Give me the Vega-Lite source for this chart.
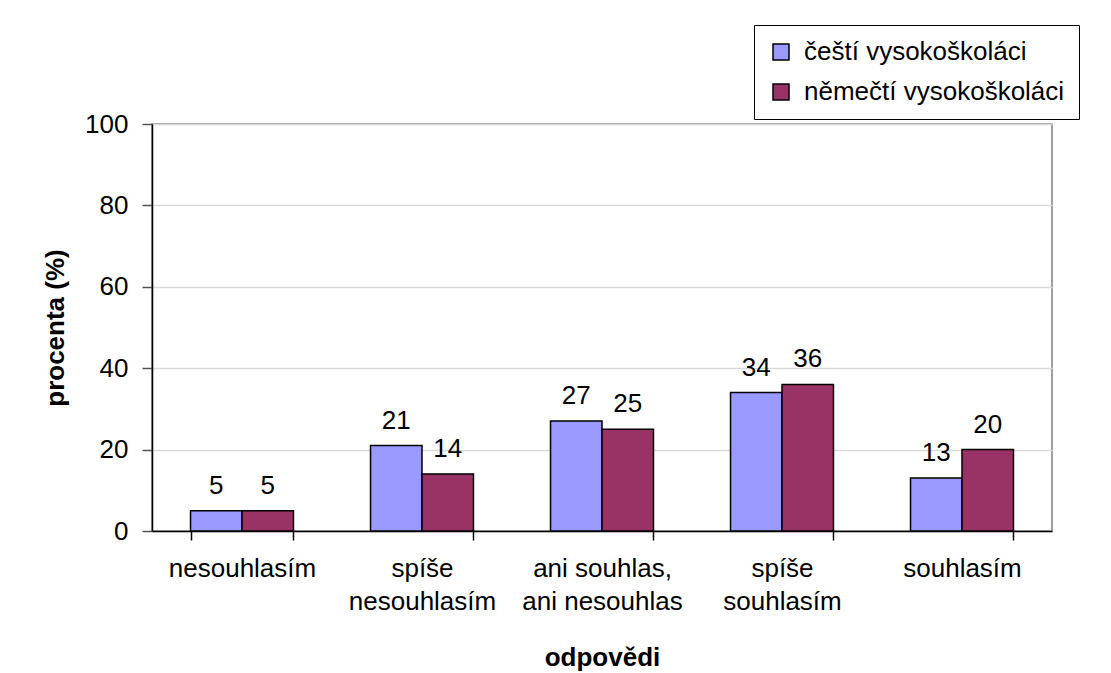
{
  "$schema": "https://vega.github.io/schema/vega-lite/v6.json",
  "width": 900,
  "height": 407,
  "autosize": {"type": "none"},
  "padding": {"left": 152, "top": 124, "right": 59, "bottom": 142},
  "background": "white",
  "config": {
    "font": "Liberation Sans",
    "view": {"stroke": "#808080", "strokeWidth": 1.5}
  },
  "data": {
    "values": [
      {"odpoved": "nesouhlasím", "skupina": "čeští vysokoškoláci", "procenta": 5},
      {"odpoved": "nesouhlasím", "skupina": "němečtí vysokoškoláci", "procenta": 5},
      {"odpoved": "spíše|nesouhlasím", "skupina": "čeští vysokoškoláci", "procenta": 21},
      {"odpoved": "spíše|nesouhlasím", "skupina": "němečtí vysokoškoláci", "procenta": 14},
      {"odpoved": "ani souhlas,|ani nesouhlas", "skupina": "čeští vysokoškoláci", "procenta": 27},
      {"odpoved": "ani souhlas,|ani nesouhlas", "skupina": "němečtí vysokoškoláci", "procenta": 25},
      {"odpoved": "spíše|souhlasím", "skupina": "čeští vysokoškoláci", "procenta": 34},
      {"odpoved": "spíše|souhlasím", "skupina": "němečtí vysokoškoláci", "procenta": 36},
      {"odpoved": "souhlasím", "skupina": "čeští vysokoškoláci", "procenta": 13},
      {"odpoved": "souhlasím", "skupina": "němečtí vysokoškoláci", "procenta": 20}
    ]
  },
  "encoding": {
    "x": {
      "field": "odpoved",
      "type": "nominal",
      "sort": null,
      "scale": {"paddingInner": 0.428, "paddingOuter": 0.214},
      "axis": {
        "title": "odpovědi",
        "titleFontSize": 26,
        "titleFontWeight": "bold",
        "titleColor": "black",
        "titlePadding": 30,
        "labelAngle": 0,
        "labelFontSize": 26,
        "labelColor": "black",
        "labelPadding": 15,
        "labelLineHeight": 33,
        "labelExpr": "split(datum.label, '|')",
        "tickBand": "extent",
        "tickSize": 9,
        "tickColor": "black",
        "tickWidth": 1.5,
        "domainColor": "black",
        "domainWidth": 1.5,
        "grid": false
      }
    },
    "xOffset": {
      "field": "skupina",
      "type": "nominal",
      "sort": ["čeští vysokoškoláci", "němečtí vysokoškoláci"],
      "scale": {"paddingInner": 0, "paddingOuter": 0}
    },
    "y": {
      "field": "procenta",
      "type": "quantitative",
      "scale": {"domain": [0, 100], "nice": false},
      "axis": {
        "title": "procenta (%)",
        "titleFontSize": 26,
        "titleFontWeight": "bold",
        "titleColor": "black",
        "titlePadding": 16,
        "values": [0, 20, 40, 60, 80, 100],
        "labelFontSize": 26,
        "labelColor": "black",
        "labelPadding": 14,
        "tickSize": 10,
        "tickColor": "#555555",
        "tickWidth": 1.5,
        "domainColor": "black",
        "domainWidth": 1.5,
        "gridColor": "#d9d9d9",
        "gridWidth": 1.5
      }
    }
  },
  "layer": [
    {
      "mark": {"type": "bar", "stroke": "black", "strokeWidth": 1.5},
      "encoding": {
        "color": {
          "field": "skupina",
          "type": "nominal",
          "scale": {"domain": ["čeští vysokoškoláci", "němečtí vysokoškoláci"], "range": ["#9999FF", "#993366"]},
          "legend": {
            "title": null,
            "orient": "none",
            "legendX": 602,
            "legendY": -99,
            "padding": 14,
            "strokeColor": "black",
            "fillColor": "white",
            "labelFontSize": 26,
            "labelColor": "black",
            "labelOffset": 10,
            "rowPadding": 14,
            "symbolType": "square",
            "symbolSize": 256,
            "symbolStrokeColor": "black",
            "symbolStrokeWidth": 1.5,
            "labelLimit": 400
          }
        }
      }
    },
    {
      "mark": {"type": "text", "fontSize": 26, "color": "black", "baseline": "alphabetic", "dy": -17},
      "encoding": {"text": {"field": "procenta", "type": "quantitative"}}
    }
  ]
}
